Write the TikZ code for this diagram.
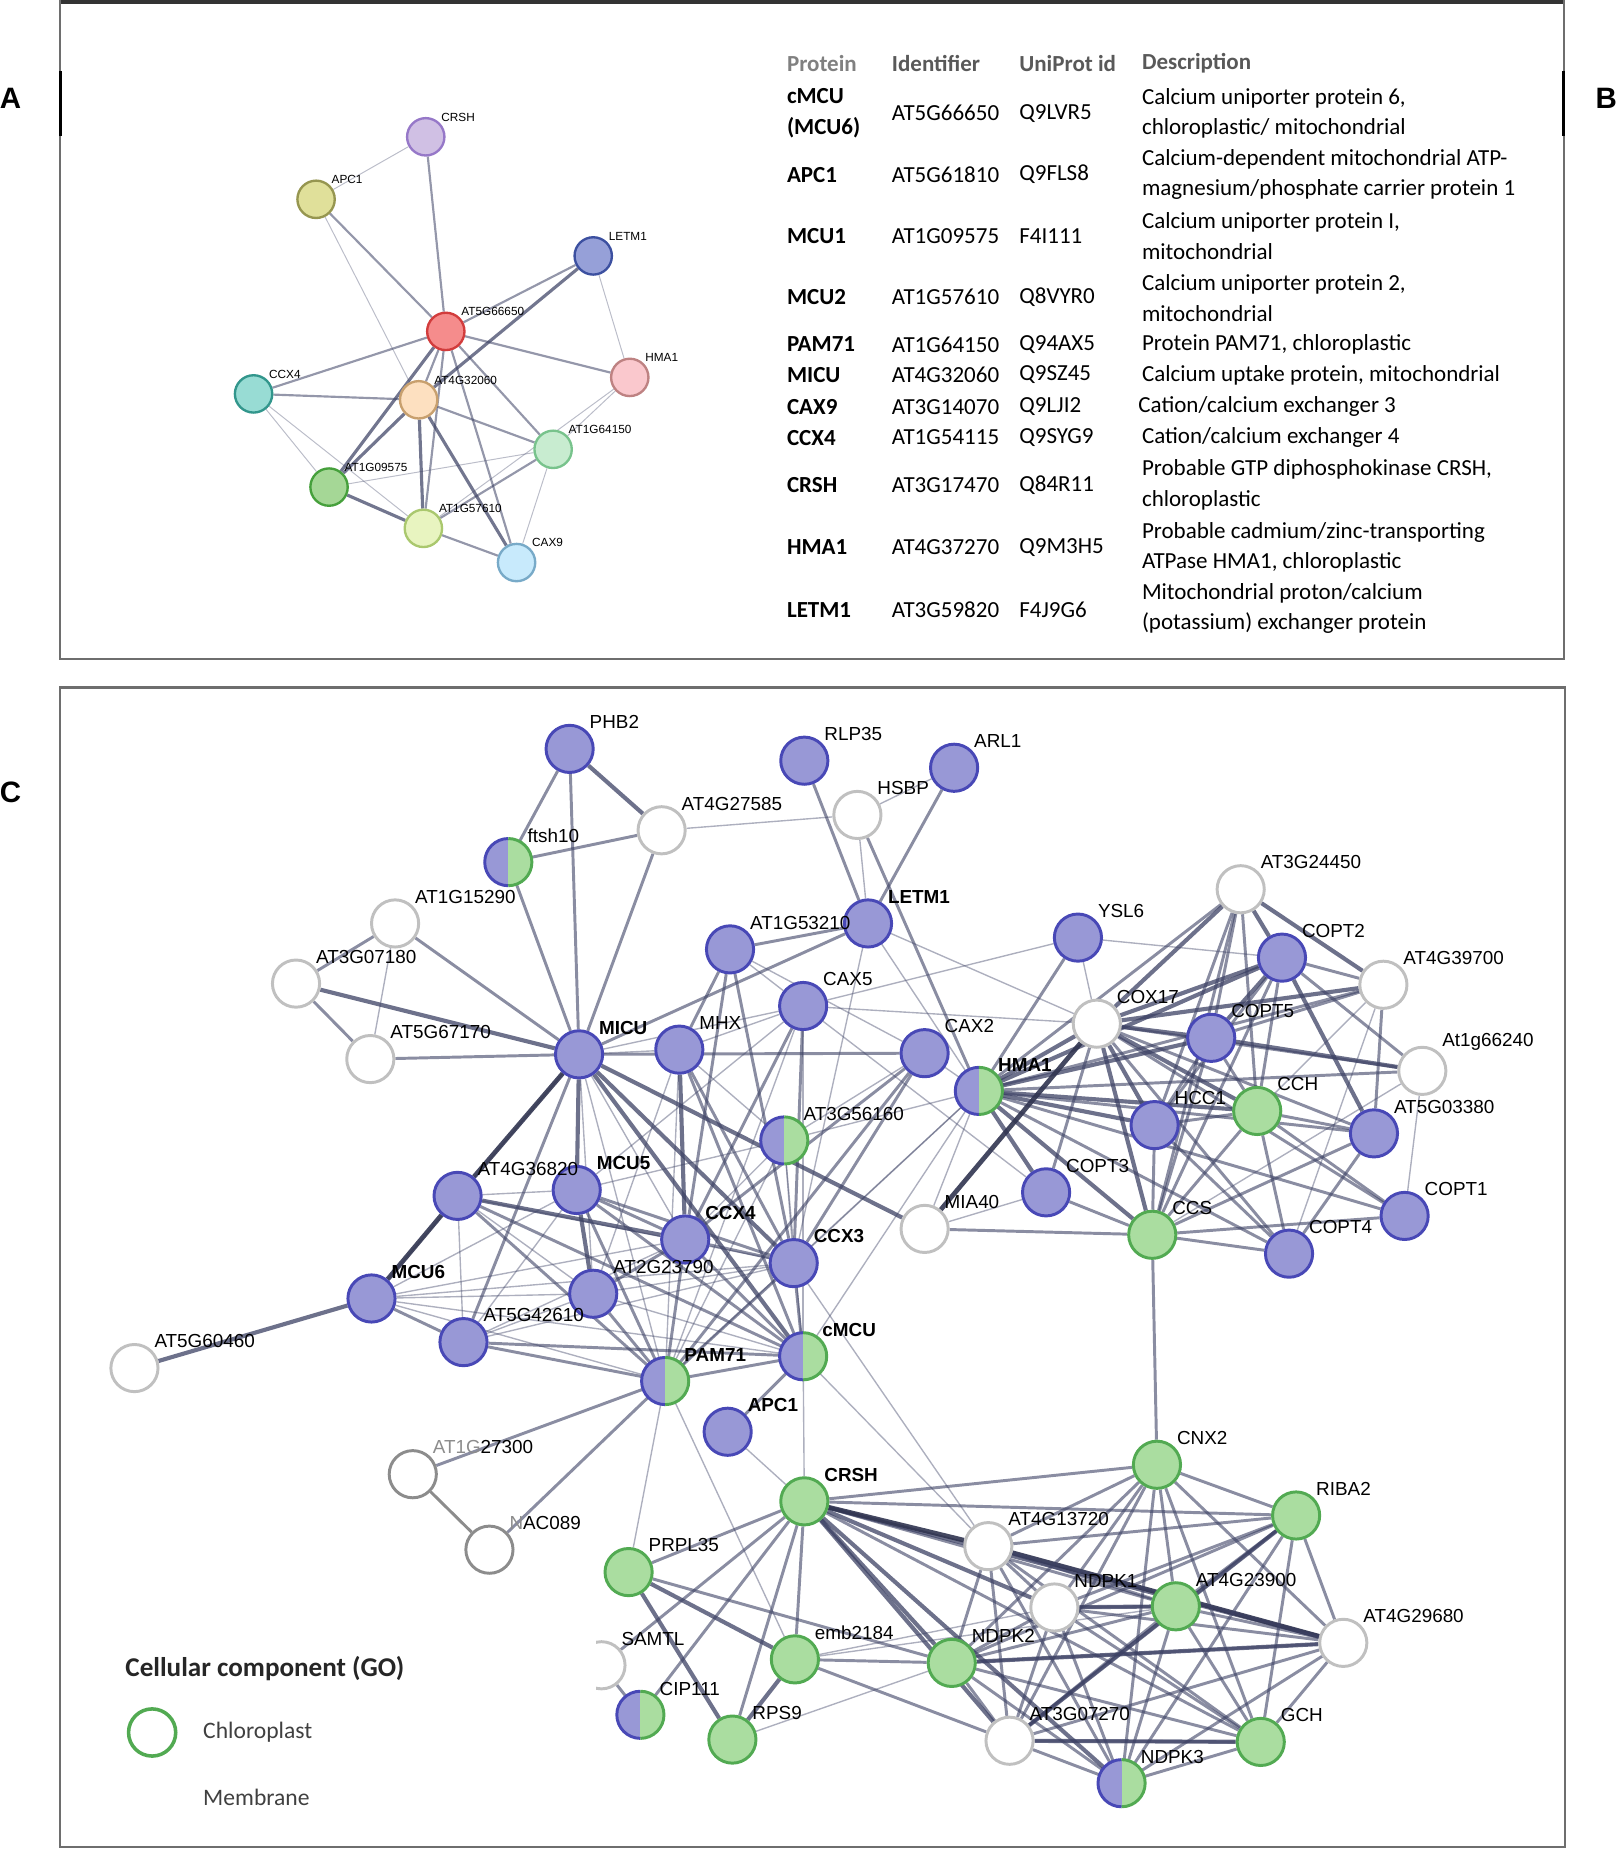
\documentclass[tikz,border=0pt]{standalone}
\usepackage{fontspec}
\setmainfont{Liberation Sans}
\newfontfamily\tabfont{Carlito}
\usetikzlibrary{backgrounds}

% colori rete C
\definecolor{bluF}{RGB}{152,152,214}
\definecolor{bluD}{RGB}{72,72,182}
\definecolor{grnF}{RGB}{170,221,160}
\definecolor{grnD}{RGB}{82,170,82}
\definecolor{wD}{RGB}{192,192,192}
\definecolor{grD}{RGB}{140,140,140}
\definecolor{edgeC}{RGB}{60,65,100}
\definecolor{frameC}{RGB}{110,110,110}
% colori rete A
\definecolor{fCRSH}{RGB}{208,192,228}\definecolor{dCRSH}{RGB}{150,120,200}
\definecolor{fAPC}{RGB}{224,224,154}\definecolor{dAPC}{RGB}{150,150,80}
\definecolor{fLETM}{RGB}{150,160,216}\definecolor{dLETM}{RGB}{60,80,160}
\definecolor{fRED}{RGB}{245,140,140}\definecolor{dRED}{RGB}{210,60,60}
\definecolor{fHMA}{RGB}{250,200,205}\definecolor{dHMA}{RGB}{190,130,130}
\definecolor{fCCX}{RGB}{152,220,212}\definecolor{dCCX}{RGB}{50,150,140}
\definecolor{fPEA}{RGB}{253,224,192}\definecolor{dPEA}{RGB}{200,160,110}
\definecolor{fLGR}{RGB}{200,236,208}\definecolor{dLGR}{RGB}{120,195,140}
\definecolor{fGRN}{RGB}{165,215,150}\definecolor{dGRN}{RGB}{70,160,60}
\definecolor{fYGR}{RGB}{232,244,192}\definecolor{dYGR}{RGB}{170,200,110}
\definecolor{fCAX}{RGB}{200,234,252}\definecolor{dCAX}{RGB}{120,170,200}

% liste dei nodi: nome/x/y/etichetta
\def\anodes{acrsh/361/116/CRSH/CRSH, aapc/268/169/APC/APC1, aletm/503/217/LETM/LETM1,
  a566/378/281/RED/AT5G66650, ahma/534/320/HMA/HMA1, accx/215/334/CCX/CCX4, a432/355/339/PEA/AT4G32060,
  a164/469/381/LGR/AT1G64150, a109/279/413/GRN/AT1G09575, a157/359/448/YGR/AT1G57610, acax/438/477/CAX/CAX9}
\def\blunodes{phb2/483/635/PHB2, rlp35/682/645/RLP35, arl1/809/651/ARL1,
  at1g53210/619/805/AT1G53210, letm1/736/783/{\textbf{LETM1}}, cax5/681/853/CAX5, mhx/576/890/MHX,
  micu/491/894/{\textbf{MICU}}, cax2/784/893/CAX2, ysl6/914/795/YSL6, copt2/1087/812/COPT2,
  copt5/1027/880/COPT5, hcc1/979/954/HCC1, at5g03380/1165/961/AT5G03380, at4g36820/388/1014/AT4G36820,
  mcu5/489/1009/{\textbf{MCU5}}, ccx4/581/1051/{\textbf{CCX4}}, ccx3/673/1071/{\textbf{CCX3}},
  copt3/887/1011/COPT3, copt4/1093/1063/COPT4, copt1/1191/1031/COPT1, mcu6/315/1101/{\textbf{MCU6}},
  at2g23790/503/1097/AT2G23790, at5g42610/393/1138/AT5G42610, apc1/617/1214/{\textbf{APC1}}}
\def\grnnodes{cch/1066/942/CCH, ccs/977/1047/CCS, crsh/682/1273/{\textbf{CRSH}},
  cnx2/981/1242/CNX2, riba2/1099/1285/RIBA2, prpl35/533/1333/PRPL35, at4g23900/997/1362/AT4G23900,
  emb2184/674/1407/emb2184, ndpk2/807/1410/NDPK2, rps9/621/1475/RPS9, gch/1069/1477/GCH}
\def\whnodes{at4g27585/561/704/AT4G27585, hsbp/727/691/HSBP, at1g15290/335/783/AT1G15290,
  at3g07180/251/834/AT3G07180, at5g67170/314/898/AT5G67170, at3g24450/1052/754/AT3G24450,
  at4g39700/1173/835/AT4G39700, cox17/930/868/COX17, at1g66240/1206/908/At1g66240,
  mia40/784/1042/MIA40, at5g60460/114/1160/AT5G60460, at4g13720/838/1311/AT4G13720,
  ndpk1/894/1363/NDPK1, at4g29680/1139/1393/AT4G29680, samtl/510/1412/SAMTL, at3g07270/856/1476/AT3G07270}
\def\grnodes{at1g27300/350/1250/{{\color{grD}AT1G}27300}, nac089/415/1314/{{\color{grD}N}AC089}}
\def\hnodes{ftsh10/431/731/ftsh10, hma1/830/925/{\textbf{HMA1}}, at3g56160/665/967/AT3G56160,
  pam71/564/1171/{\textbf{PAM71}}, cmcu/681/1150/{\textbf{cMCU}}, cip111/543/1454/CIP111, ndpk3/951/1512/NDPK3}

\begin{document}
\begin{tikzpicture}[x=0.6pt,y=-0.6pt]
% definizione dei nodi
\tikzset{bnode/.style={circle, draw=bluD, fill=bluF, line width=1.5pt, minimum size=24pt, inner sep=0pt}}
\tikzset{gnode/.style={circle, draw=grnD, fill=grnF, line width=1.5pt, minimum size=24pt, inner sep=0pt}}
\tikzset{wnode/.style={circle, draw=wD, fill=white, line width=1.5pt, minimum size=24pt, inner sep=0pt}}
\tikzset{grnode/.style={wnode, draw=grD}}
\tikzset{hnode/.style={circle, minimum size=24pt, inner sep=0pt, path picture={
  \fill[bluF] (path picture bounding box.north west) rectangle (path picture bounding box.south);
  \fill[grnF] (path picture bounding box.north) rectangle (path picture bounding box.south east);}}}
\tikzset{anode/.style={circle, line width=1.2pt, minimum size=19pt, inner sep=0pt}}
% definizione dei collegamenti
\tikzset{ethin/.style={draw=edgeC, line width=0.7pt, opacity=0.42}}
\tikzset{emed/.style={draw=edgeC, line width=1.5pt, opacity=0.6}}
\tikzset{ethick/.style={draw=edgeC, line width=2.1pt, opacity=0.75}}
\tikzset{edark/.style={draw=edgeC!80!black, line width=2.4pt, opacity=0.9}}
\tikzset{athin/.style={draw=edgeC, line width=0.5pt, opacity=0.35}}
\tikzset{amed/.style={draw=edgeC, line width=1.1pt, opacity=0.55}}
\tikzset{athick/.style={draw=edgeC, line width=1.6pt, opacity=0.72}}
% etichette e testo tabella
\tikzset{lbl/.style={anchor=south west, inner sep=1pt, font=\fontsize{9.6}{11}\selectfont}}
\tikzset{albl/.style={anchor=south west, inner sep=0.6pt, font=\fontsize{6}{7}\selectfont}}
\tikzset{tcell/.style={anchor=west, inner sep=0pt, align=left, font=\tabfont\fontsize{11.7}{15.6}\selectfont}}

\useasboundingbox (0,0) rectangle (1372,1569.5);

%----
% cornici
\draw[black!80, line width=1.8pt] (51,1.5) -- (1326,1.5);
\draw[frameC, line width=0.9pt] (51,0) -- (51,559) -- (1326,559) -- (1326,0);
\draw[black, line width=1.6pt] (51,60) -- (51,115);
\draw[black, line width=1.6pt] (1326,60) -- (1326,115);
\draw[frameC, line width=1.3pt] (51,583) rectangle (1327,1566);

% lettere dei pannelli
\foreach \n/\x/\y/\t in {lA/9/83/A, lB/1362/83/B, lC/9/672/C}
\node[font=\bfseries\fontsize{15}{15}\selectfont] (\n) at (\x,\y) {\t};

%----
% rete A
\foreach \n/\x/\y/\c/\t in \anodes
\node[anode, fill=f\c, draw=d\c] (\n) at (\x,\y) {};
\foreach \n/\x/\y/\c/\t in \anodes
\node[albl] (t\n) at (\n.45) {\t};
\begin{pgfonlayer}{background}
\foreach \a/\b in {acrsh/aapc, aapc/a432, aletm/ahma, accx/a109, accx/a157, a109/a164, a164/acax, ahma/a164, ahma/a157}
\draw[athin] (\a) -- (\b);
\foreach \a/\b in {acrsh/a566, aapc/a566, aletm/a566, a566/ahma, a566/accx, a566/a432, a566/a157, a566/acax,
  a566/a164, accx/a432, a432/a164, a157/acax, a157/a164}
\draw[amed] (\a) -- (\b);
\foreach \a/\b in {a566/a109, a432/a109, a432/a157, a432/acax, a109/a157, aletm/a432}
\draw[athick] (\a) -- (\b);
\end{pgfonlayer}

%----
% tabella B
\foreach \x/\t/\c [count=\i] in {667/Protein/black!50, 756/Identifier/black!65, 864/UniProt id/black!65, 968/Description/black!65}
\node[tcell, font=\tabfont\bfseries\fontsize{11.7}{15.6}\selectfont, text=\c] (h\i) at (\x,54) {\t};
\foreach \y/\p/\id/\u [count=\i] in {96/{cMCU\\(MCU6)}/AT5G66650/Q9LVR5, 148/APC1/AT5G61810/Q9FLS8,
  200/MCU1/AT1G09575/F4I111, 252/MCU2/AT1G57610/Q8VYR0, 292/PAM71/AT1G64150/Q94AX5,
  318/MICU/AT4G32060/Q9SZ45, 345/CAX9/AT3G14070/Q9LJI2, 371/CCX4/AT1G54115/Q9SYG9,
  411/CRSH/AT3G17470/Q84R11, 464/HMA1/AT4G37270/Q9M3H5, 517/LETM1/AT3G59820/F4J9G6}{
\node[tcell, font=\tabfont\bfseries\fontsize{11.7}{15.6}\selectfont] (p\i) at (667,\y) {\p};
\node[tcell] (id\i) at (756,\y) {\id};
\node[tcell] (u\i) at (864,\y) {\u};
}
\foreach \x/\y/\d [count=\i] in {968/96/{Calcium uniporter protein 6,\\chloroplastic/ mitochondrial},
  968/148/{Calcium-dependent mitochondrial ATP-\\magnesium/phosphate carrier protein 1},
  968/200/{Calcium uniporter protein I,\\mitochondrial},
  968/253/{Calcium uniporter protein 2,\\mitochondrial},
  968/292/{Protein PAM71, chloroplastic},
  968/318/{Calcium uptake protein, mitochondrial},
  965/345/{Cation/calcium exchanger 3},
  968/371/{Cation/calcium exchanger 4},
  968/411/{Probable GTP diphosphokinase CRSH,\\chloroplastic},
  968/464/{Probable cadmium/zinc-transporting\\ATPase HMA1, chloroplastic},
  968/516/{Mitochondrial proton/calcium\\(potassium) exchanger protein}}
\node[tcell] (d\i) at (\x,\y) {\d};

%----
% rete C: nodi mitocondriali, cloroplasto, senza annotazione
\foreach \n/\x/\y/\t in \blunodes \node[bnode] (\n) at (\x,\y) {};
\foreach \n/\x/\y/\t in \grnnodes \node[gnode] (\n) at (\x,\y) {};
\foreach \n/\x/\y/\t in \whnodes \node[wnode] (\n) at (\x,\y) {};
\foreach \n/\x/\y/\t in \grnodes \node[grnode] (\n) at (\x,\y) {};
% nodi doppi (mitocondrio + cloroplasto)
\foreach \n/\x/\y/\t in \hnodes {
\node[hnode] (\n) at (\x,\y) {};
\draw[bluD, line width=1.5pt] (\n.center) ++(0pt,-12pt) arc[start angle=-90, delta angle=-180, radius=12pt];
\draw[grnD, line width=1.5pt] (\n.center) ++(0pt,-12pt) arc[start angle=-90, delta angle=180, radius=12pt];
}
% etichette sopra i nodi
\foreach \n/\x/\y/\t in \blunodes \node[lbl] (t\n) at (\n.45) {\t};
\foreach \n/\x/\y/\t in \grnnodes \node[lbl] (t\n) at (\n.45) {\t};
\foreach \n/\x/\y/\t in \whnodes \node[lbl] (t\n) at (\n.45) {\t};
\foreach \n/\x/\y/\t in \grnodes \node[lbl] (t\n) at (\n.45) {\t};
\foreach \n/\x/\y/\t in \hnodes \node[lbl] (t\n) at (\n.45) {\t};

% collegamenti rete C
\begin{pgfonlayer}{background}
\foreach \a/\b in {at4g27585/hsbp, hsbp/arl1, hsbp/letm1, at1g15290/at5g67170, micu/mhx, micu/cax5, micu/pam71,
  micu/mcu6, micu/at2g23790, micu/ccx4, at1g53210/cax5, at1g53210/cax2, letm1/hma1, letm1/ccx3, letm1/cox17,
  cax5/ysl6, cax5/cox17, cax5/copt3, cax5/pam71, cax5/cmcu, mhx/cax5, mhx/at3g56160, mhx/pam71, mhx/at2g23790,
  cax2/hma1, cax2/at3g56160, hma1/at3g56160, hma1/ccx3, hma1/cmcu, hma1/pam71, hma1/mia40,
  ysl6/cox17, ysl6/copt2, mia40/copt3, at4g39700/copt4, at1g66240/copt1, at4g39700/cch, at1g66240/ccs,
  at4g36820/mcu5, at4g36820/at5g42610, at4g36820/at2g23790, at4g36820/ccx3,
  mcu5/at3g56160, mcu5/cax5, mcu5/mcu6, mcu5/at5g42610, mcu6/at2g23790, mcu6/ccx4, mcu6/ccx3, mcu6/pam71, mcu6/cmcu,
  at5g42610/at2g23790, at5g42610/ccx3, at5g42610/ccx4, at2g23790/ccx3, at2g23790/cmcu,
  ccx4/at3g56160, ccx3/at3g56160, pam71/at3g56160, cmcu/at3g56160, pam71/prpl35, pam71/emb2184,
  cmcu/crsh, cmcu/at4g13720, ccx3/at4g13720, apc1/crsh, emb2184/ndpk1, emb2184/at4g23900, rps9/ndpk2}
\draw[ethin] (\a) -- (\b);
\foreach \a/\b in {phb2/ftsh10, phb2/micu, ftsh10/at4g27585, ftsh10/micu, at4g27585/micu,
  rlp35/letm1, arl1/letm1, hsbp/hma1, at1g15290/at3g07180, at1g15290/micu, at3g07180/at5g67170, at5g67170/micu,
  micu/letm1, micu/cax2, micu/at5g42610, at1g53210/letm1, at1g53210/mhx, at1g53210/ccx4, at1g53210/ccx3,
  cax5/ccx4, cax5/ccx3, mhx/ccx3, mhx/cmcu, cax2/ccx4, cax2/pam71, cax2/ccx3,
  hma1/ysl6, hma1/at3g24450, hma1/at4g39700, hma1/at1g66240, hma1/at5g03380, hma1/copt1, hma1/copt4,
  mia40/ccs, at4g39700/at5g03380, at4g39700/copt5, at3g24450/cch, at3g24450/hcc1, at3g24450/ccs, at3g24450/copt5,
  copt2/cch, copt2/hcc1, copt2/ccs, copt2/at1g66240, copt2/at4g39700,
  cox17/copt3, cox17/copt4, cox17/copt1, cox17/at5g03380, cox17/at1g66240,
  copt5/cch, copt5/hcc1, copt5/ccs, hcc1/cch, hcc1/ccs, hcc1/copt4,
  cch/ccs, cch/copt4, cch/copt1, cch/at5g03380, at5g03380/copt4, ccs/copt4, ccs/copt3, ccs/copt1, ccs/cnx2, ccs/at5g03380,
  at4g36820/cmcu, at4g36820/pam71, mcu5/ccx4, mcu5/ccx3, mcu5/pam71, mcu5/cmcu,
  mcu6/at5g42610, at5g42610/pam71, at5g42610/cmcu, at2g23790/pam71, at2g23790/ccx4,
  ccx4/ccx3, ccx4/pam71, ccx4/cmcu, ccx3/cmcu, ccx3/pam71, pam71/cmcu, pam71/at1g27300, pam71/nac089, cmcu/apc1,
  crsh/prpl35, crsh/samtl, crsh/cip111, crsh/rps9, crsh/emb2184, crsh/cnx2, crsh/riba2, crsh/at4g23900, crsh/gch,
  prpl35/ndpk2, emb2184/ndpk2, emb2184/at3g07270, samtl/cip111}
\draw[emed] (\a) -- (\b);
\foreach \a/\b in {phb2/at4g27585, micu/at3g07180, micu/mcu5, micu/ccx3, micu/cmcu, micu/mia40, mhx/ccx4,
  hma1/cox17, hma1/copt2, hma1/copt5, hma1/hcc1, hma1/cch, hma1/ccs, hma1/copt3,
  cox17/at3g24450, cox17/copt2, cox17/copt5, cox17/at4g39700, cox17/hcc1, cox17/cch, cox17/ccs,
  at3g24450/copt2, at3g24450/at4g39700, copt2/at5g03380, copt2/copt5, copt5/at1g66240,
  at5g60460/mcu6, at4g36820/ccx4, mcu5/at2g23790,
  crsh/ndpk2, crsh/at3g07270, crsh/ndpk1, crsh/at4g29680, crsh/ndpk3, prpl35/emb2184, prpl35/rps9, emb2184/rps9,
  riba2/at3g07270, ndpk2/at4g29680, at3g07270/gch, ndpk1/at4g23900}
\draw[ethick] (\a) -- (\b);
\foreach \a/\b in {micu/at4g36820, at4g36820/mcu6, mia40/cox17, crsh/at4g13720, at4g13720/at4g29680}
\draw[edark] (\a) -- (\b);
\draw[grD, line width=1.5pt] (at1g27300) -- (nac089);
% gruppo denso in basso
\foreach \a [count=\i] in {cnx2,riba2,at4g13720,ndpk1,at4g23900,at4g29680,ndpk2,at3g07270,gch,ndpk3}{
  \foreach \b [count=\j] in {cnx2,riba2,at4g13720,ndpk1,at4g23900,at4g29680,ndpk2,at3g07270,gch,ndpk3}{
    \ifnum\j>\i \draw[emed] (\a) -- (\b); \fi
  }
}
\end{pgfonlayer}

%----
% legenda
\fill[white] (60,1386) rectangle (505,1440);
\node[anchor=west, inner sep=0pt, font=\tabfont\bfseries\fontsize{13.8}{15}\selectfont, text=black!85] (legT) at (106,1415) {Cellular component (GO)};
\node[circle, draw=grnD, fill=white, line width=1.8pt, minimum size=24pt, inner sep=0pt] (legC) at (129,1469) {};
\foreach \y/\t [count=\i] in {1469/Chloroplast, 1524/Membrane}
\node[anchor=west, inner sep=0pt, font=\tabfont\fontsize{12}{14}\selectfont, text=black!75] (legL\i) at (172,\y) {\t};
\end{tikzpicture}
\end{document}
